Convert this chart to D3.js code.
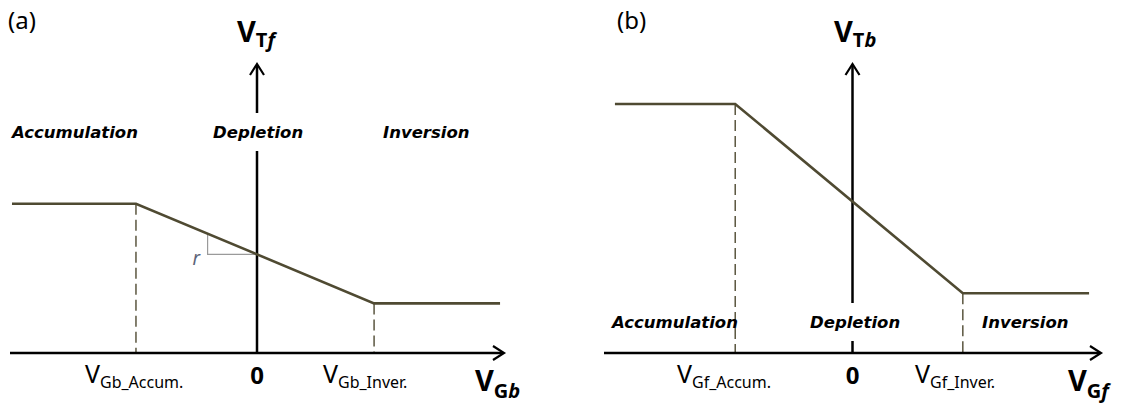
<!DOCTYPE html>
<html>
<head>
<meta charset="utf-8">
<script src="https://cdn.jsdelivr.net/npm/d3@7"></script>
<style>
  body { margin: 0; background: #fff; }
  svg { display: block; }
</style>
</head>
<body>
<div id="chart"></div>
<script>
// ---- data (arbitrary units, origin at the axes crossing) ----
const panelTags = ["(a)", "(b)"];
const regionNames = ["Accumulation", "Depletion", "Inversion"];
const xDomain = [-2.5, 2.5];
const yDomain = [0, 3];

// (a) V_Tf versus V_Gb
const curveA = [[-2.48, 1.55], [-1.225, 1.55], [1.185, 0.515], [2.46, 0.515]];
const thresholdsA = [-1.225, 1.185];
const thresholdLabelsA = ["Gb_Accum.", "Gb_Inver."];
const slopeMarkA = -0.5;

// (b) V_Tb versus V_Gf
const curveB = [[-2.39, 2.585], [-1.18, 2.585], [1.11, 0.62], [2.38, 0.62]];
const thresholdsB = [-1.18, 1.11];
const thresholdLabelsB = ["Gf_Accum.", "Gf_Inver."];

const W = 1123, H = 403;
const curveColor = "#4f4a32";
const sans = "'Noto Sans', 'Open Sans', sans-serif";
const boldItalic = "'DejaVu Sans', Verdana, sans-serif";

const svg = d3.select("#chart").append("svg")
    .attr("width", W)
    .attr("height", H);

function interpY(curve, x)
{
    for (let i = 0; i < curve.length - 1; i++) {
        const [x0, y0] = curve[i];
        const [x1, y1] = curve[i + 1];
        if (x >= x0 && x <= x1) {
            return y0 + (y1 - y0) * (x - x0) / (x1 - x0);
        }
    }
    return curve[curve.length - 1][1];
}

// V with a subscript, the last char of the subscript optionally italic
function vLabel(g, x, y, opts)
{
    const t = g.append("text")
        .attr("x", x)
        .attr("y", y)
        .attr("font-family", sans)
        .attr("font-weight", opts.bold ? "bold" : "normal")
        .attr("fill", "#000");
    t.append("tspan")
        .attr("font-size", opts.size)
        .text("V");
    if (opts.italicLast) {
        t.append("tspan")
            .attr("font-size", opts.subSize)
            .attr("dy", opts.dy)
            .text(opts.sub.slice(0, -1));
        t.append("tspan")
            .attr("font-size", opts.subSize)
            .attr("font-style", "italic")
            .text(opts.sub.slice(-1));
    } else {
        t.append("tspan")
            .attr("font-size", opts.subSize)
            .attr("dy", opts.dy)
            .text(opts.sub);
    }
    return t;
}

function arrowHead(g, x, y, dir)
{
    // open chevron; dir "up" or "right"
    const pts = dir === "up"
        ? [[x - 7, y + 11], [x, y], [x + 7, y + 11]]
        : [[x - 11, y - 7], [x, y], [x - 11, y + 7]];
    g.append("path")
        .attr("d", d3.line()(pts))
        .attr("fill", "none")
        .attr("stroke", "#000")
        .attr("stroke-width", 2.2);
}

function drawPanel(cfg)
{
    const g = svg.append("g");

    const x = d3.scaleLinear().domain(xDomain).range(cfg.xRange);
    const y = d3.scaleLinear().domain(yDomain).range([353, 64]);

    // panel tag
    g.append("text")
        .attr("x", cfg.tagX)
        .attr("y", 29)
        .attr("font-family", sans)
        .attr("font-size", 24)
        .text(cfg.tag);

    // dashed threshold lines
    g.selectAll("line.thr")
        .data(cfg.thresholds)
        .join("line")
        .attr("class", "thr")
        .attr("x1", d => x(d))
        .attr("x2", d => x(d))
        .attr("y1", d => y(interpY(cfg.curve, d)))
        .attr("y2", y(0))
        .attr("stroke", curveColor)
        .attr("stroke-width", 1.4)
        .attr("stroke-dasharray", "11,5");

    // slope marker
    if (cfg.slopeMark !== undefined) {
        const sx = cfg.slopeMark;
        const sy = interpY(cfg.curve, sx);
        const y0 = interpY(cfg.curve, 0);
        g.append("path")
            .attr("d", d3.line()([[x(sx), y(sy)], [x(sx), y(y0)], [x(0), y(y0)]]))
            .attr("fill", "none")
            .attr("stroke", "#9a9a9a")
            .attr("stroke-width", 1.2);
        g.append("text")
            .attr("x", x(sx) - 15)
            .attr("y", y(y0) + 11)
            .attr("font-family", sans)
            .attr("font-size", 19)
            .attr("font-style", "italic")
            .attr("fill", "#5d6478")
            .text("r");
    }

    // axes
    g.append("line")
        .attr("x1", x(xDomain[0]))
        .attr("x2", x(xDomain[1]) - 1)
        .attr("y1", y(0))
        .attr("y2", y(0))
        .attr("stroke", "#000")
        .attr("stroke-width", 2.5);
    arrowHead(g, x(xDomain[1]), y(0), "right");

    g.append("line")
        .attr("x1", x(0))
        .attr("x2", x(0))
        .attr("y1", y(0))
        .attr("y2", y(yDomain[1]) + 1)
        .attr("stroke", "#000")
        .attr("stroke-width", 2.5);
    arrowHead(g, x(0), y(yDomain[1]), "up");

    // the curve
    g.append("path")
        .attr("d", d3.line().x(d => x(d[0])).y(d => y(d[1]))(cfg.curve))
        .attr("fill", "none")
        .attr("stroke", curveColor)
        .attr("stroke-width", 2.6)
        .attr("stroke-linejoin", "miter");

    // region names; the middle one sits on a white box that breaks the y axis
    const regions = g.selectAll("g.region")
        .data(regionNames)
        .join("g")
        .attr("class", "region");

    regions.filter((d, i) => i === 1)
        .append("rect")
        .attr("x", cfg.regionX[1] - 2)
        .attr("y", cfg.regionY - 25)
        .attr("width", 94)
        .attr("height", 38)
        .attr("fill", "#fff");

    regions.append("text")
        .attr("x", (d, i) => cfg.regionX[i])
        .attr("y", cfg.regionY)
        .attr("font-family", boldItalic)
        .attr("font-weight", "bold")
        .attr("font-style", "italic")
        .attr("font-size", 16.5)
        .attr("fill", "#000")
        .text(d => d);

    // "0" at origin
    g.append("text")
        .attr("x", x(0))
        .attr("y", 384)
        .attr("text-anchor", "middle")
        .attr("font-family", sans)
        .attr("font-weight", "bold")
        .attr("font-size", 24)
        .text("0");

    // threshold labels
    cfg.thresholdLabels.forEach((lab, i) => {
        vLabel(g, cfg.thresholdLabelX[i], 383, {
            size: 25, subSize: 16, dy: 5, sub: lab
        });
    });

    // axis titles
    vLabel(g, cfg.xTitleX, 391, {
        bold: true, size: 29, subSize: 20, dy: 7, sub: cfg.xTitle, italicLast: true
    });
    vLabel(g, cfg.yTitleX, 42, {
        bold: true, size: 29, subSize: 20, dy: 5, sub: cfg.yTitle, italicLast: true
    });
}

drawPanel({
    tag: panelTags[0], tagX: 8,
    xRange: [10, 504],
    curve: curveA,
    thresholds: thresholdsA,
    thresholdLabels: thresholdLabelsA,
    thresholdLabelX: [85, 323],
    slopeMark: slopeMarkA,
    regionX: [12, 213, 383],
    regionY: 138,
    xTitle: "Gb", xTitleX: 475,
    yTitle: "Tf", yTitleX: 237
});

drawPanel({
    tag: panelTags[1], tagX: 617,
    xRange: [604, 1101],
    curve: curveB,
    thresholds: thresholdsB,
    thresholdLabels: thresholdLabelsB,
    thresholdLabelX: [677, 915],
    regionX: [612, 810, 982],
    regionY: 328,
    xTitle: "Gf", xTitleX: 1068,
    yTitle: "Tb", yTitleX: 834
});
</script>
</body>
</html>
